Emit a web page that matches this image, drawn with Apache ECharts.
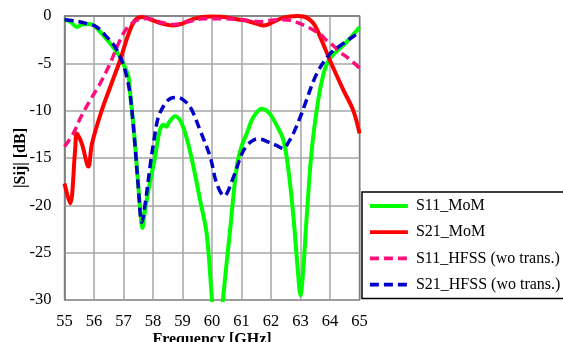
<!DOCTYPE html>
<html>
<head>
<meta charset="utf-8">
<script src="https://cdn.jsdelivr.net/npm/echarts@6/dist/echarts.min.js"></script>
<style>
  html, body { margin: 0; padding: 0; background: #fff; }
  #chart { width: 563px; height: 342px; }
</style>
</head>
<body>
<div id="chart"></div>
<script>
// S11 from MoM (green)
const s11MomFreq = [55, 55.2, 55.42, 55.6, 55.8, 56.0, 56.3, 56.55, 56.88, 57.1, 57.17, 57.22, 57.35, 57.45, 57.56, 57.64, 57.73, 57.9, 58.07, 58.22, 58.35, 58.45, 58.55, 58.75, 58.95, 59.15, 59.37, 59.6, 59.82, 60.0, 60.18, 60.37, 60.6, 60.84, 61.0, 61.18, 61.4, 61.69, 61.95, 62.2, 62.42, 62.6, 62.76, 62.9, 63.0, 63.1, 63.21, 63.38, 63.6, 63.78, 63.95, 64.2, 64.45, 64.75, 65.0];
const s11MomDb = [-0.4, -0.6, -1.15, -0.9, -0.85, -1.0, -2.0, -2.9, -4.3, -5.8, -6.4, -8.0, -12.0, -15.9, -20.2, -22.4, -20.5, -17.5, -14.9, -12.2, -11.5, -11.7, -11.2, -10.6, -11.2, -13.0, -15.9, -19.5, -23.0, -30.0, -37.0, -30.0, -23.0, -15.9, -13.8, -12.4, -10.7, -9.8, -10.3, -11.6, -13.1, -16.5, -21.2, -26.5, -29.5, -26.5, -21.2, -14.2, -8.9, -6.1, -4.7, -3.8, -3.1, -2.1, -1.2];

// S21 from MoM (red)
const s21MomFreq = [55, 55.19, 55.36, 55.42, 55.59, 55.81, 55.93, 56.26, 56.55, 56.88, 57.17, 57.39, 57.62, 57.9, 58.3, 58.69, 59.0, 59.37, 59.94, 60.4, 60.73, 61.1, 61.5, 61.75, 62.1, 62.42, 62.9, 63.1, 63.44, 63.72, 64.0, 64.45, 64.79, 65.0];
const s21MomDb = [-17.7, -19.8, -14.2, -12.4, -13.5, -15.9, -13.5, -10.0, -7.5, -4.7, -1.9, -0.45, -0.1, -0.35, -0.8, -1.0, -0.8, -0.3, -0.05, -0.1, -0.3, -0.45, -0.8, -1.0, -0.6, -0.17, 0, -0.05, -0.8, -2.6, -4.7, -7.8, -10.0, -12.4];

// S11 from HFSS, without transition (pink dashed)
const s11HfssFreq = [55, 55.3, 55.55, 55.87, 56.21, 56.55, 56.83, 57.11, 57.45, 57.79, 58.2, 58.7, 59.2, 59.7, 60.05, 60.5, 61.0, 61.63, 62.2, 62.65, 62.9, 63.2, 63.44, 63.66, 63.89, 64.1, 64.34, 64.55, 64.79, 65.0];
const s11HfssDb = [-13.8, -12.4, -10.7, -8.9, -7.1, -5.0, -2.9, -1.3, -0.45, -0.27, -0.6, -0.9, -0.6, -0.3, -0.3, -0.3, -0.4, -0.6, -0.4, -0.45, -0.7, -1.1, -1.5, -1.9, -2.6, -3.1, -3.8, -4.3, -4.9, -5.5];

// S21 from HFSS, without transition (blue dashed)
const s21HfssFreq = [55, 55.4, 55.76, 56.09, 56.43, 56.72, 56.94, 57.11, 57.22, 57.3, 57.4, 57.5, 57.62, 57.75, 57.9, 58.05, 58.18, 58.4, 58.6, 58.81, 59.0, 59.26, 59.6, 59.94, 60.16, 60.41, 60.73, 61.07, 61.41, 61.63, 61.9, 62.2, 62.42, 62.6, 62.76, 63.04, 63.16, 63.55, 64.0, 64.45, 64.91, 65.0];
const s21HfssDb = [-0.4, -0.55, -0.8, -1.16, -2.2, -3.3, -4.7, -6.4, -8.2, -10.5, -14.0, -18.0, -21.8, -19.5, -15.9, -12.8, -10.7, -9.3, -8.7, -8.6, -8.8, -9.6, -12.1, -14.9, -17.7, -19.0, -17.0, -14.2, -13.1, -13.0, -13.3, -13.7, -14.0, -13.3, -12.4, -10.3, -9.25, -6.1, -4.0, -2.9, -1.9, -1.7];

const freqTicks = [55, 56, 57, 58, 59, 60, 61, 62, 63, 64, 65];
const dbTicks = [0, -5, -10, -15, -20, -25, -30];

const FONT = "'Liberation Serif', 'Times New Roman', serif";

function zip(xs, ys) {
  return xs.map((x, i) => [x, ys[i]]);
}

function lineSeries(name, xs, ys, color, dashed) {
  return {
    name,
    type: "line",
    data: zip(xs, ys),
    showSymbol: false,
    symbol: "none",
    smooth: 0.35,
    clip: true,
    animation: false,
    lineStyle: {
      color,
      width: dashed ? 3.5 : 4,
      type: dashed ? [9, 5] : "solid",
    },
    itemStyle: { color },
  };
}

const chart = echarts.init(document.getElementById("chart"));
chart.setOption({
  animation: false,
  textStyle: { fontFamily: FONT },
  grid: {
    left: 64.5,
    right: 203.5,
    top: 16,
    bottom: 42,
    outerBoundsMode: "none",
    containLabel: false,
    show: true,
    borderColor: "#000",
    borderWidth: 1.2,
  },
  xAxis: {
    type: "value",
    min: freqTicks[0],
    max: freqTicks[freqTicks.length - 1],
    interval: 1,
    name: "Frequency [GHz]",
    nameLocation: "middle",
    nameGap: 32,
    nameMoveOverlap: false,
    nameTextStyle: { fontFamily: FONT, fontWeight: "bold", fontSize: 16, color: "#000" },
    axisLine: { lineStyle: { color: "#808080", width: 1.5 } },
    axisTick: { show: false },
    axisLabel: { fontFamily: FONT, fontSize: 16.5, color: "#000", margin: 13 },
    splitLine: { lineStyle: { color: "#a6a6a6", width: 1.5 } },
  },
  yAxis: {
    type: "value",
    min: dbTicks[dbTicks.length - 1],
    max: dbTicks[0],
    interval: 5,
    name: "|Sij| [dB]",
    nameLocation: "middle",
    nameGap: 36,
    nameMoveOverlap: false,
    nameTextStyle: { fontFamily: FONT, fontWeight: "bold", fontSize: 16, color: "#000" },
    axisLine: { show: true, lineStyle: { color: "#808080", width: 1.5 } },
    axisTick: { show: false },
    axisLabel: { fontFamily: FONT, fontSize: 16.5, color: "#000", margin: 13 },
    splitLine: { lineStyle: { color: "#a6a6a6", width: 1.5 } },
  },
  legend: {
    orient: "vertical",
    left: 362,
    top: 192,
    padding: [6, 6, 6, 6],
    itemWidth: 38,
    itemHeight: 14,
    itemGap: 10.2,
    backgroundColor: "#fff",
    borderColor: "#000",
    borderWidth: 1.5,
    borderRadius: 0,
    itemStyle: { opacity: 0 },
    lineStyle: { width: 3.8 },
    textStyle: { fontFamily: FONT, fontSize: 16, color: "#000", padding: [0, 0, 0, 3] },
    data: ["S11_MoM", "S21_MoM", "S11_HFSS (wo trans.)", "S21_HFSS (wo trans.)"],
  },
  series: [
    lineSeries("S11_MoM", s11MomFreq, s11MomDb, "#00ff00", false),
    lineSeries("S21_MoM", s21MomFreq, s21MomDb, "#ff0000", false),
    lineSeries("S11_HFSS (wo trans.)", s11HfssFreq, s11HfssDb, "#ff0d7a", true),
    lineSeries("S21_HFSS (wo trans.)", s21HfssFreq, s21HfssDb, "#0000c8", true),
  ],
});
</script>
</body>
</html>
